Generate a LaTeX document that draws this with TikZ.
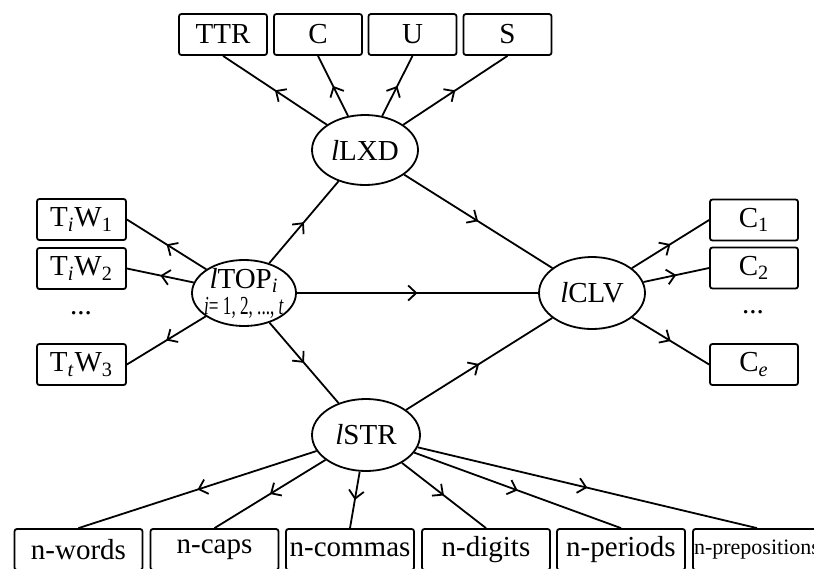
\documentclass[tikz,border=0pt]{standalone}
\usepackage{fontspec}
\setmainfont{Liberation Serif}
\usetikzlibrary{shapes.geometric,arrows.meta,decorations.markings}
\begin{document}
\begin{tikzpicture}[x=0.5pt,y=-0.5pt,
  every node/.style={font=\fontsize{14.5}{16}\selectfont},
  box/.style={draw,line width=0.9pt,rounded corners=1.2pt,minimum height=20.5pt,inner sep=0pt},
  tbox/.style={box,minimum width=44pt},
  bbox/.style={box,minimum width=64pt},
  lat/.style={draw,ellipse,line width=0.9pt,inner sep=0pt},
  conn/.style={line width=0.9pt, postaction=decorate,
    decoration={markings, mark=at position 0.5 with {\arrow{Straight Barb[length=4pt,width=7.5pt,line width=0.9pt]}}}}
]
\useasboundingbox (0,0) rectangle (814,568);

% latent variables
\node[lat, minimum width=53pt, minimum height=35pt] (lxd) at (365,150) {\textit{l}LXD};
\node[lat, inner sep=-4.5pt, minimum width=52pt, minimum height=33pt, align=center] (top) at (244,293)
  {\textit{l}TOP\textsubscript{\textit{i}}\\[-3pt]{\fontsize{13}{14}\selectfont\scalebox{0.66}[1]{\textit{i}= 1, 2, ..., \textit{t}}}};
\node[lat, minimum width=53pt, minimum height=36pt] (clv) at (592,293) {\textit{l}CLV};
\node[lat, minimum width=54pt, minimum height=36pt] (str) at (366,435) {\textit{l}STR};

% top indicators
\node[tbox] (ttr) at (223,34.5) {TTR};
\node[tbox] (cc) at (318,34.5) {C};
\node[tbox] (uu) at (412.5,34.5) {U};
\node[tbox] (ss) at (507.5,34.5) {S};

% left indicators
\node[tbox, minimum width=44.5pt] (w1) at (81.5,219.5) {T\textsubscript{\textit{i}}W\textsubscript{1}};
\node[tbox, minimum width=44.5pt] (w2) at (81.5,268.5) {T\textsubscript{\textit{i}}W\textsubscript{2}};
\node (ldots) at (81,313) {...};
\node[tbox, minimum width=44.5pt] (w3) at (81.5,364.5) {T\textsubscript{\textit{t}}W\textsubscript{3}};

% right indicators
\node[tbox] (c1) at (754,220) {C\textsubscript{1}};
\node[tbox] (c2) at (754,268) {C\textsubscript{2}};
\node (rdots) at (753,312) {...};
\node[tbox] (ce) at (754,364.5) {C\textsubscript{\textit{e}}};

% bottom indicators
\node[bbox] (nwords) at (78.5,549.5) {n-words};
\node[bbox] (ncaps) at (214.5,549.5) {n-caps};
\node[bbox] (ncommas) at (350,549.5) {n-commas};
\node[bbox] (ndigits) at (486,549.5) {n-digits};
\node[bbox] (nperiods) at (621,549.5) {n-periods};
\node[bbox, font=\fontsize{11}{12}\selectfont] (nprep) at (757,549.5) {n-prepositions};

% connectors
\draw[conn] (lxd) -- (ttr.south);
\draw[conn] (lxd) -- (cc.south);
\draw[conn] (lxd) -- (uu.south);
\draw[conn] (lxd) -- (ss.south);

\draw[conn] (top) -- (w1.east);
\draw[conn] (top) -- (w2.east);
\draw[conn] (top) -- (w3.east);

\draw[conn] (clv) -- (c1.west);
\draw[conn] (clv) -- (c2.west);
\draw[conn] (clv) -- (ce.west);

\draw[conn] (str) -- (nwords.north);
\draw[conn] (str) -- (ncaps.north);
\draw[conn] (str) -- (ncommas.north);
\draw[conn] (str) -- (ndigits.north);
\draw[conn] (str) -- (nperiods.north);
\draw[conn] (str) -- (nprep.north);

\draw[conn] (top) -- (lxd);
\draw[conn] (top) -- (clv);
\draw[conn] (top) -- (str);
\draw[conn] (lxd) -- (clv);
\draw[conn] (str) -- (clv);
\end{tikzpicture}
\end{document}
